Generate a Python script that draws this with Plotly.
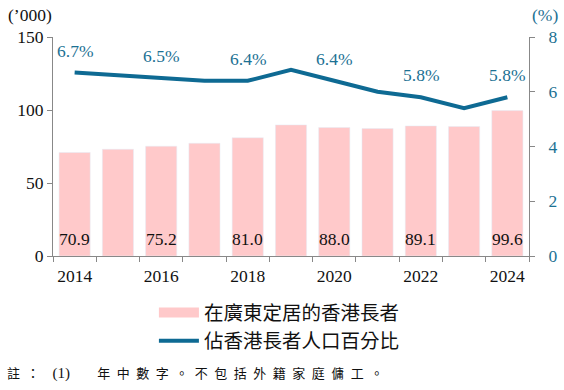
import plotly.graph_objects as go

years = ["2014", "2015", "2016", "2017", "2018", "2019", "2020", "2021", "2022", "2023", "2024"]
elders = [70.9, 73.1, 75.2, 77.2, 81.0, 89.8, 88.0, 87.3, 89.1, 88.7, 99.6]
share = [6.7, 6.6, 6.5, 6.4, 6.4, 6.8, 6.4, 6.0, 5.8, 5.4, 5.8]
bar_label_years = ["2014", "2016", "2018", "2020", "2022", "2024"]
tick_labels = [y if int(y) % 2 == 0 else "" for y in years]

bar_name = "在廣東定居的香港長者"
line_name = "佔香港長者人口百分比"
note_head = "註："
note_num = "(1)"
note_body = "年中數字。不包括外籍家庭傭工。"

BAR = "#FFC9CA"
LINE = "#0E6A93"
TEAL = "#1C7193"
SERIF = "Liberation Serif, Times New Roman, serif"
CJK = "Noto Sans CJK TC, Noto Sans CJK SC, sans-serif"
FS = 17.5

def spaced(s, sep="\u2002"):
    return sep.join(list(s))

fig = go.Figure()
fig.add_trace(go.Bar(x=years, y=elders, marker_color=BAR, showlegend=False,
                     yaxis="y", hoverinfo="x+y"))
fig.add_trace(go.Scatter(x=years, y=share, mode="lines", line=dict(color=LINE, width=4),
                         yaxis="y2", showlegend=False))
# legend entries
fig.add_trace(go.Scatter(x=[None], y=[None], mode="lines", line=dict(color=BAR, width=10),
                         name=bar_name, legendgroup="a", yaxis="y"))
fig.add_trace(go.Scatter(x=[None], y=[None], mode="lines", line=dict(color=LINE, width=4),
                         name=line_name, legendgroup="b", yaxis="y2"))

ann = []
for i, (y, v) in enumerate(zip(years, elders)):
    if y in bar_label_years:
        ann.append(dict(x=i, y=0, xref="x", yref="y", text=f"{v:.1f}", showarrow=False,
                        xanchor="center", yanchor="bottom", yshift=5,
                        font=dict(family=SERIF, size=FS, color="#111")))
for i, (y, v) in enumerate(zip(years, share)):
    if y in bar_label_years:
        ann.append(dict(x=i, y=v, xref="x", yref="y2", text=f"{v:.1f}%", showarrow=False,
                        xanchor="center", yanchor="middle", yshift=22,
                        font=dict(family=SERIF, size=FS, color=TEAL)))
ann.append(dict(x=-0.048, y=1.10, xref="paper", yref="paper", text="(’000)", showarrow=False,
                xanchor="center", yanchor="middle",
                font=dict(family=SERIF, size=FS, color="#111")))
ann.append(dict(x=1.034, y=1.10, xref="paper", yref="paper", text="(%)", showarrow=False,
                xanchor="center", yanchor="middle",
                font=dict(family=SERIF, size=FS, color=TEAL)))
note_text = (spaced(note_head) + "\u2002\u2002"
             + f"<span style='font-family:Liberation Serif;font-size:15px'>{note_num}</span>"
             + "\u2003\u2002\u2009\u2009\u2009" + spaced(note_body))
ann.append(dict(x=-0.1008, y=-0.530, xref="paper", yref="paper", xanchor="left", yanchor="middle",
                text=note_text, showarrow=False, font=dict(family=CJK, size=13, color="#111")))

fig.update_layout(
    width=564, height=390,
    margin=dict(l=53, r=35, t=37, b=134, autoexpand=False),
    paper_bgcolor="white", plot_bgcolor="white",
    bargap=0.28,
    font=dict(family=SERIF, size=FS, color="#111"),
    xaxis=dict(type="category", tickmode="array", tickvals=years, ticktext=tick_labels,
               tickson="boundaries", ticks="outside", ticklen=5, tickcolor="#888",
               showline=True, linecolor="#888", linewidth=1, showgrid=False, automargin=False,
               ticklabelstandoff=4, tickangle=0,
               range=[-0.5, 10.5], tickfont=dict(family=SERIF, size=FS, color="#111")),
    yaxis=dict(range=[0, 150], tickvals=[0, 50, 100, 150], ticks="outside", ticklen=5,
               tickcolor="#888", showline=True, linecolor="#888", showgrid=False, zeroline=False,
               automargin=False, tickfont=dict(family=SERIF, size=FS, color="#111")),
    yaxis2=dict(range=[0, 8], tickvals=[0, 2, 4, 6, 8], overlaying="y", side="right",
                ticks="outside", ticklen=5, tickcolor="#888", showline=True, linecolor="#888",
                showgrid=False, zeroline=False, automargin=False, ticklabelstandoff=10,
                tickfont=dict(family=SERIF, size=FS, color=TEAL)),
    showlegend=True,
    legend=dict(x=0.212, y=-0.17, xanchor="left", yanchor="top", orientation="v",
                traceorder="grouped", tracegroupgap=0, itemwidth=40,
                font=dict(family=CJK, size=19.5, color="#111"), bgcolor="rgba(0,0,0,0)"),
    annotations=ann,
)

fig.write_html("out.html", config={"displayModeBar": False},
               post_script="document.body.style.margin='0';")
